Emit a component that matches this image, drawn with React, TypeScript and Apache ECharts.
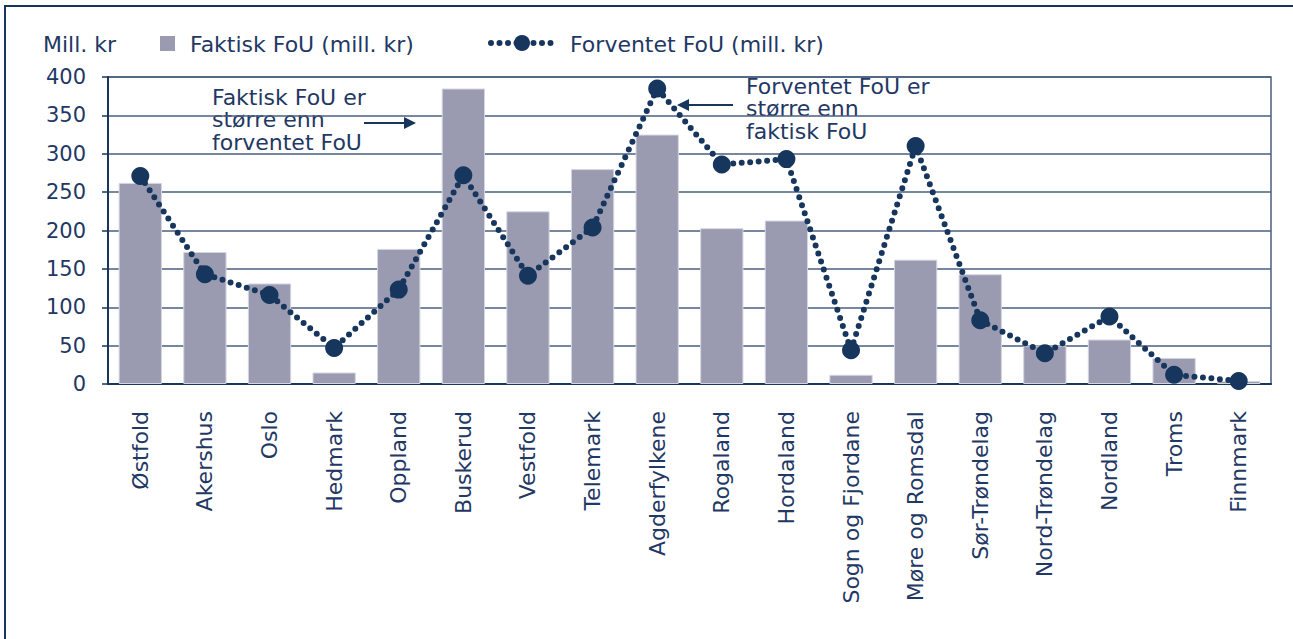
import React, { useEffect, useRef } from "react";
import * as echarts from "echarts";

const categories = [
  "Østfold", "Akershus", "Oslo", "Hedmark", "Oppland", "Buskerud", "Vestfold",
  "Telemark", "Agderfylkene", "Rogaland", "Hordaland", "Sogn og Fjordane",
  "Møre og Romsdal", "Sør-Trøndelag", "Nord-Trøndelag", "Nordland", "Troms", "Finnmark",
];
const faktisk = [262, 172, 131, 15, 176, 385, 225, 280, 325, 203, 213, 12, 162, 143, 50, 58, 34, 4];
const forventet = [271, 143, 116, 47, 123, 272, 141, 204, 385, 286, 293, 44, 310, 83, 40, 88, 12, 4];
const yTicks = [0, 50, 100, 150, 200, 250, 300, 350, 400];

const NAVY = "#17365d";
const TEXT = "#1f3864";
const BAR = "#9a9bb0";
const FONT = "DejaVu Sans";
const FS = 22;

export default function App() {
  const ref = useRef<HTMLDivElement>(null);
  useEffect(() => {
    if (!ref.current) return;
    const chart = echarts.init(ref.current, null, { renderer: "svg" });
    chart.setOption({
      animation: false,
      textStyle: { fontFamily: FONT, color: TEXT },
      grid: {
        left: 108, right: 22, top: 77, bottom: 255,
        show: true, borderColor: "#4a5f80", borderWidth: 1.5, backgroundColor: "transparent",
      },
      legend: { show: false },
      xAxis: {
        type: "category",
        data: categories,
        axisLine: { show: true, lineStyle: { color: NAVY, width: 2 } },
        axisTick: { show: false },
        axisLabel: {
          rotate: 90, margin: 27, fontSize: FS, color: TEXT, fontFamily: FONT,
        },
      },
      yAxis: {
        type: "value",
        min: yTicks[0],
        max: yTicks[yTicks.length - 1],
        interval: 50,
        axisLine: { show: true, lineStyle: { color: NAVY, width: 2 } },
        axisTick: { show: true, length: 6, lineStyle: { color: NAVY, width: 1.5 } },
        axisLabel: { fontSize: 21, color: TEXT, margin: 22, fontFamily: FONT },
        splitLine: { show: true, lineStyle: { color: "#4a5f80", width: 1.5 } },
      },
      series: [
        {
          name: "Faktisk FoU (mill. kr)",
          type: "bar",
          data: faktisk,
          barCategoryGap: "33%",
          itemStyle: { color: BAR, borderColor: "#d4d5e0", borderWidth: 1 },
        },
        {
          name: "Forventet FoU (mill. kr)",
          type: "line",
          data: forventet,
          symbol: "circle",
          symbolSize: 18,
          itemStyle: { color: NAVY },
          lineStyle: { color: NAVY, width: 6, type: [0, 8.5], cap: "round" },
          z: 5,
        },
      ],
      graphic: [
        { type: "rect", shape: { x: 5, y: 6, width: 1400, height: 700 }, style: { fill: "none", stroke: NAVY, lineWidth: 2 }, silent: true },
        { type: "text", x: 43, y: 44, style: { text: "Mill. kr", fontSize: FS, fill: TEXT, fontFamily: FONT, verticalAlign: "middle" } },
        { type: "rect", shape: { x: 160, y: 36, width: 15, height: 15 }, style: { fill: BAR } },
        { type: "text", x: 190, y: 44, style: { text: "Faktisk FoU (mill. kr)", fontSize: FS, fill: TEXT, fontFamily: FONT, verticalAlign: "middle" } },
        { type: "line", shape: { x1: 491, y1: 43, x2: 555, y2: 43 }, style: { stroke: NAVY, lineWidth: 6, lineDash: [0, 8.5], lineCap: "round" } },
        { type: "circle", shape: { cx: 522, cy: 43, r: 8 }, style: { fill: NAVY } },
        { type: "text", x: 570, y: 44, style: { text: "Forventet FoU (mill. kr)", fontSize: FS, fill: TEXT, fontFamily: FONT, verticalAlign: "middle" } },
        { type: "text", x: 212, y: 86, style: { text: "Faktisk FoU er\nstørre enn\nforventet FoU", fontSize: FS, lineHeight: 22.5, fill: TEXT, fontFamily: FONT, verticalAlign: "top" } },
        { type: "line", shape: { x1: 364, y1: 123, x2: 405, y2: 123 }, style: { stroke: NAVY, lineWidth: 2 } },
        { type: "polygon", shape: { points: [[416, 123], [404, 117], [404, 129]] }, style: { fill: NAVY } },
        { type: "text", x: 746, y: 75, style: { text: "Forventet FoU er\nstørre enn\nfaktisk FoU", fontSize: FS, lineHeight: 22.5, fill: TEXT, fontFamily: FONT, verticalAlign: "top" } },
        { type: "line", shape: { x1: 733, y1: 105, x2: 688, y2: 105 }, style: { stroke: NAVY, lineWidth: 2 } },
        { type: "polygon", shape: { points: [[677, 105], [689, 99], [689, 111]] }, style: { fill: NAVY } },
      ],
    });
    return () => chart.dispose();
  }, []);
  return (
    <div
      ref={ref}
      style={{ position: "absolute", left: 0, top: 0, width: 1293, height: 639, background: "#fff" }}
    />
  );
}
